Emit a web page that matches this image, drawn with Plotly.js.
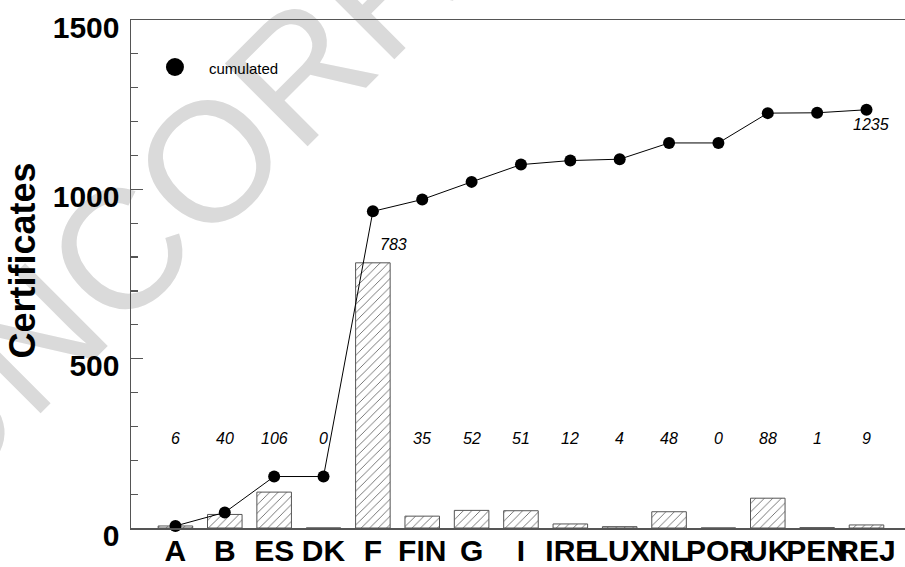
<!DOCTYPE html>
<html>
<head>
<meta charset="utf-8">
<script src="https://cdn.plot.ly/plotly-3.0.1.min.js"></script>
<style>
  html, body { margin:0; padding:0; background:#fff; }
  #wrap { position:relative; width:905px; height:567px; overflow:hidden; }
  #wm { position:absolute; left:0; top:0; width:905px; height:567px; overflow:hidden; z-index:0; pointer-events:none; }
  #wmtext { position:absolute; left:-158px; top:408px; transform-origin:0 0; transform:rotate(-45deg);
            font-family:"Liberation Sans", Arial, sans-serif; font-size:170px; line-height:1; color:#dadada; white-space:nowrap; }
  #chart { position:absolute; left:0; top:0; width:905px; height:567px; z-index:1; }
</style>
</head>
<body>
<div id="wrap">
  <div id="wm"><div id="wmtext">UNCORRECTED PROOF</div></div>
  <div id="chart"></div>
</div>
<script>
// ---- data ----
const categories   = ['A','B','ES','DK','F','FIN','G','I','IRE','LUX','NL','POR','UK','PEN','REJ'];
const certificates = [6, 40, 106, 0, 783, 35, 52, 51, 12, 4, 48, 0, 88, 1, 9];
const cumulated    = [6, 46, 152, 152, 935, 970, 1022, 1073, 1085, 1089, 1137, 1137, 1225, 1226, 1235];
const yTickVals    = [0, 500, 1000, 1500];
const legendLabel  = 'cumulated';
const yTitle       = 'Certificates';

const FONT = '"Liberation Sans", Arial, Helvetica, sans-serif';
const AX = '#555';

const bars = {
  type: 'bar',
  x: categories,
  y: certificates,
  width: 0.7,
  marker: {
    color: '#ffffff',
    line: { color: '#555', width: 1 },
    pattern: { shape: '/', fgcolor: '#6a6a6a', bgcolor: '#ffffff', size: 6, solidity: 0.15 }
  },
  hoverinfo: 'skip',
  showlegend: false
};

const cum = {
  type: 'scatter',
  mode: 'lines+markers',
  x: categories,
  y: cumulated,
  line: { color: '#000', width: 1 },
  marker: { color: '#000', size: 12 },
  cliponaxis: false,
  hoverinfo: 'skip',
  showlegend: false
};

// value labels
const labelRow = 265;
const annotations = certificates.map((v, i) => {
  const tall = v > labelRow;
  return {
    xref: 'x', yref: 'y',
    x: tall ? i + 0.42 : i,
    y: tall ? v + 55 : labelRow,
    text: String(v),
    showarrow: false,
    font: { family: FONT, size: 16, color: '#000', style: 'italic' },
    xanchor: 'center', yanchor: 'middle'
  };
});
const last = cumulated.length - 1;
annotations.push({
  xref: 'x', yref: 'y', x: last + 0.1, y: cumulated[last] - 45,
  text: String(cumulated[last]), showarrow: false,
  font: { family: FONT, size: 16, color: '#000', style: 'italic' },
  xanchor: 'center', yanchor: 'middle'
});
// legend text
annotations.push({
  xref: 'paper', yref: 'paper', x: 0.0982, y: 0.9055,
  text: legendLabel, showarrow: false,
  font: { family: FONT, size: 15, color: '#000' },
  xanchor: 'left', yanchor: 'middle'
});
// y-axis title (placed as in the reference, slightly above the axis centre)
annotations.push({
  xref: 'paper', yref: 'paper', x: -0.1402, y: 0.5276,
  text: yTitle, showarrow: false, textangle: -90,
  font: { family: FONT, size: 36, color: '#000', weight: 'bold' },
  xanchor: 'center', yanchor: 'middle'
});

const shapes = [{
  type: 'circle', xref: 'paper', yref: 'paper',
  xsizemode: 'pixel', ysizemode: 'pixel',
  xanchor: 0.0568, yanchor: 0.9075,
  x0: -9, x1: 9, y0: -9, y1: 9,
  fillcolor: '#000', line: { color: '#000', width: 0 }
}];

const layout = {
  width: 905, height: 567,
  margin: { l: 131, r: 0, t: 20, b: 39, pad: 0 },
  paper_bgcolor: 'rgba(0,0,0,0)',
  plot_bgcolor: 'rgba(0,0,0,0)',
  showlegend: false,
  xaxis: {
    type: 'category',
    range: [-0.9, 14.78],
    showline: true, linecolor: AX, linewidth: 1.5, mirror: true,
    ticks: '', showgrid: false, zeroline: false,
    tickangle: 0,
    tickfont: { family: FONT, size: 30, color: '#000', weight: 'bold' },
    ticklabelstandoff: -5,
    ticklabeloverflow: 'allow',
    automargin: false,
    fixedrange: true
  },
  yaxis: {
    range: [0, 1500],
    tickvals: yTickVals,
    ticks: 'inside', ticklen: 12, tickwidth: 1.2, tickcolor: AX,
    showline: true, linecolor: AX, linewidth: 1.5,
    showgrid: false, zeroline: false,
    minor: { dtick: 100, ticks: 'inside', ticklen: 7, tickwidth: 1.2, tickcolor: AX, showgrid: false },
    tickfont: { family: FONT, size: 30, color: '#000', weight: 'bold' },
    ticklabelshift: 7,
    ticklabelstandoff: 4,
    ticklabeloverflow: 'allow',
    automargin: false,
    fixedrange: true
  },
  annotations: annotations,
  shapes: shapes
};

Plotly.newPlot('chart', [bars, cum], layout, { staticPlot: true, displayModeBar: false });
</script>
</body>
</html>
